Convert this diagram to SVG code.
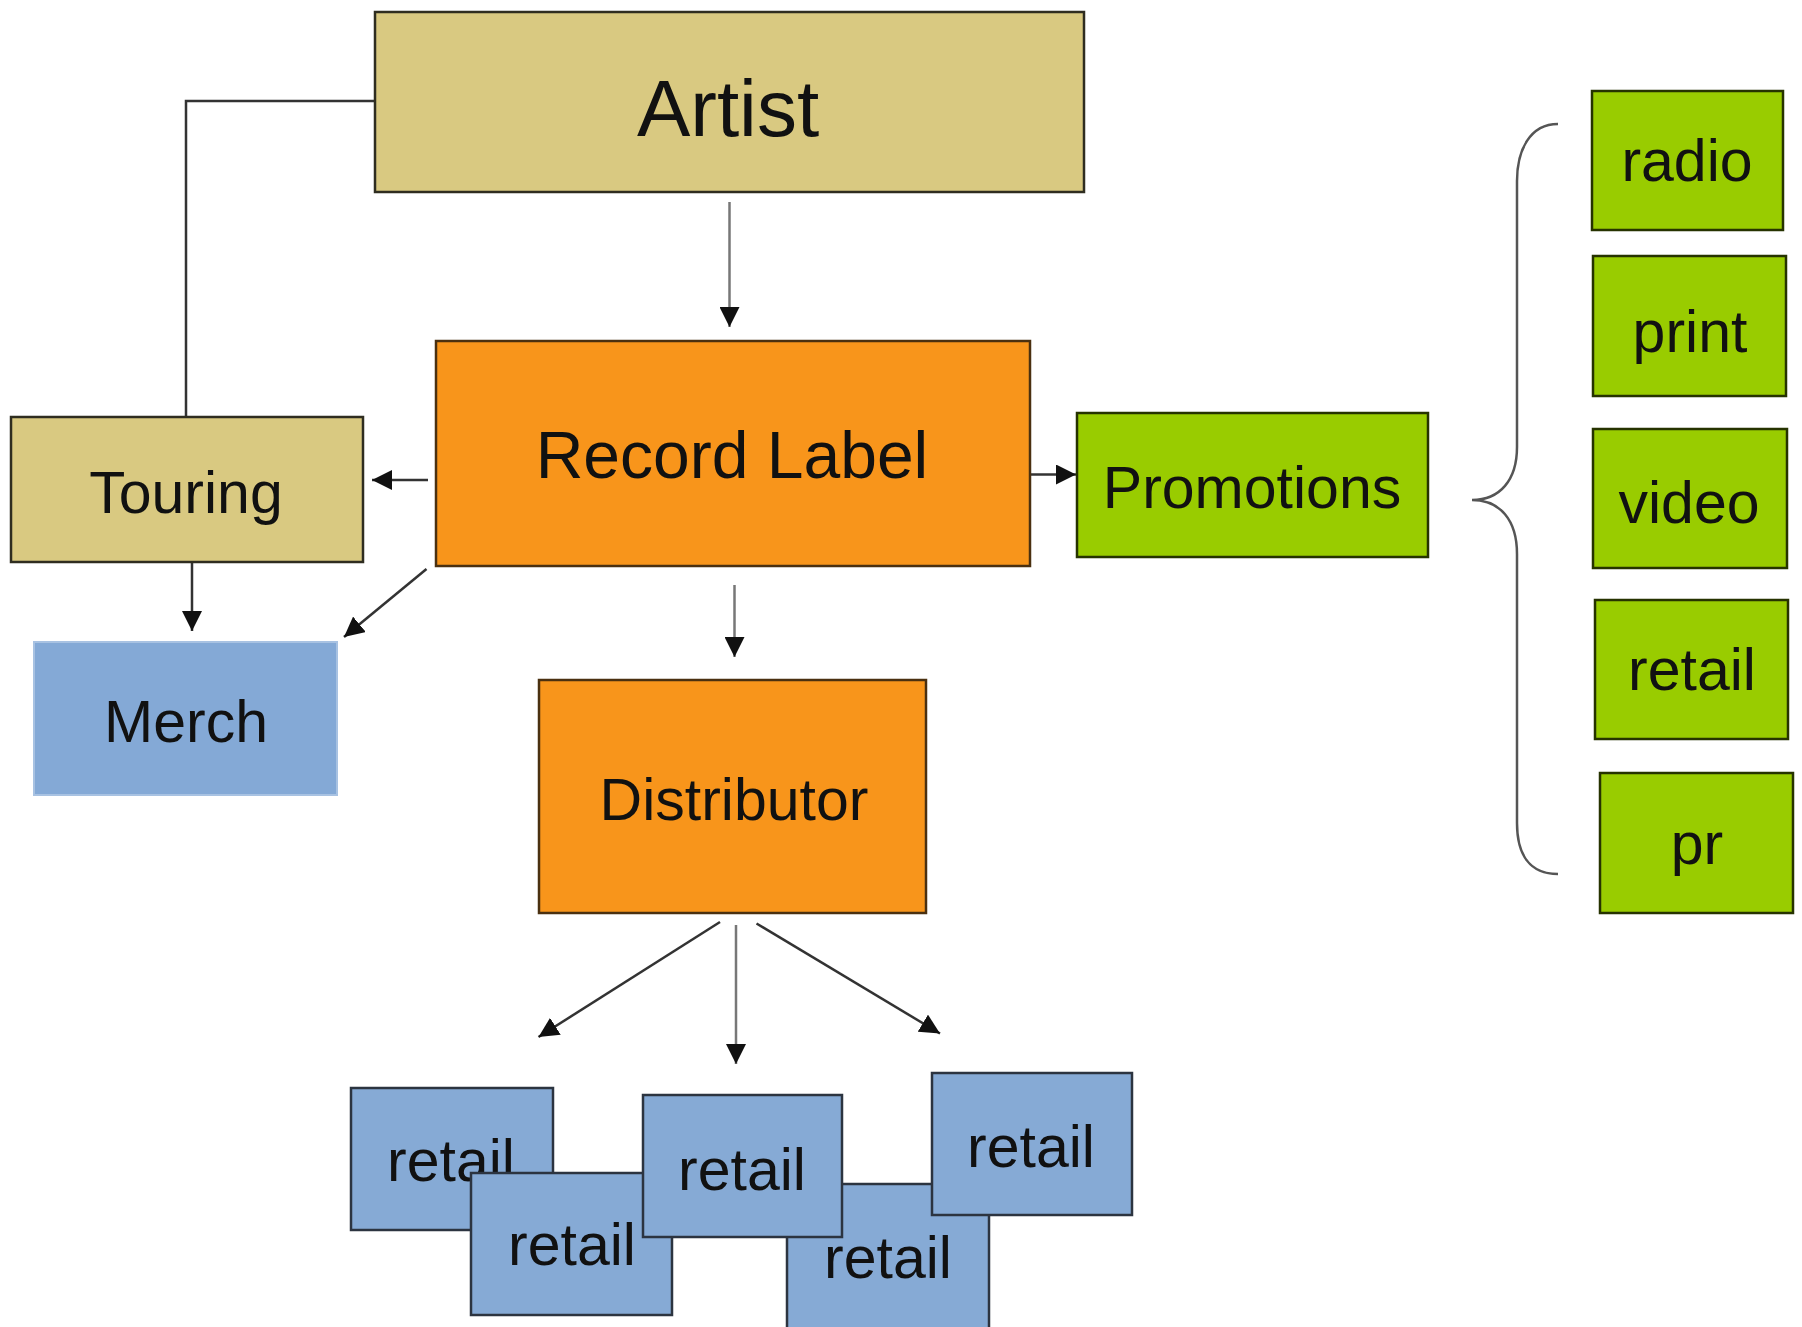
<svg xmlns="http://www.w3.org/2000/svg" width="1802" height="1327" viewBox="0 0 1802 1327">
<defs>
<style>
.tan{fill:#D9C981;stroke:#2f2d20;stroke-width:2.5}
.org{fill:#F8951B;stroke:#4a3010;stroke-width:2.5}
.grn{fill:#99CC00;stroke:#263300;stroke-width:2.5}
.blu{fill:#86AAD5;stroke:#2c3440;stroke-width:2.5}
.mer{fill:#84A9D6;stroke:#A8C2E2;stroke-width:2}
text{font-family:"Liberation Sans",Arial,sans-serif;fill:#111;text-anchor:middle}
.t59{font-size:59px}
.con{fill:none;stroke:#333;stroke-width:2.5}
.gry{fill:none;stroke:#777;stroke-width:2.5}
.brace{fill:none;stroke:#555;stroke-width:2.5}
</style>
<marker id="ah" markerUnits="userSpaceOnUse" markerWidth="22" markerHeight="20" refX="20" refY="10" orient="auto">
<path d="M0,0 L20,10 L0,20 Z" fill="#111"/>
</marker>
</defs>
<rect width="1802" height="1327" fill="#fff"/>
<g id="connectors">
<path class="con" d="M375,101 H186 V417"/>
<line class="gry" x1="729.5" y1="202" x2="729.5" y2="327" marker-end="url(#ah)"/>
<line class="con" x1="428" y1="480" x2="372" y2="480" marker-end="url(#ah)"/>
<line class="con" x1="1031" y1="474.5" x2="1076" y2="474.5" stroke-width="3.5" marker-end="url(#ah)"/>
<line class="con" x1="192" y1="562" x2="192" y2="631" marker-end="url(#ah)"/>
<line class="con" x1="426.5" y1="569" x2="344" y2="637" marker-end="url(#ah)"/>
<line class="gry" x1="734.5" y1="585" x2="734.5" y2="657" marker-end="url(#ah)"/>
<line class="con" x1="720" y1="922" x2="538.5" y2="1037" marker-end="url(#ah)"/>
<line class="gry" x1="736" y1="925" x2="736" y2="1064" marker-end="url(#ah)"/>
<line class="con" x1="756.5" y1="923.5" x2="940" y2="1033.5" marker-end="url(#ah)"/>
<path class="brace" d="M1558,124 C1530,124 1517,150 1517,181 L1517,447 C1517,480 1500,500 1472,500 C1500,500 1517,520 1517,554 L1517,823 C1517,855 1530,874 1558,874"/>
</g>
<g id="artist"><rect class="tan" x="375" y="12" width="709" height="180"/><text x="728" y="136" font-size="80">Artist</text></g>
<g id="record-label"><rect class="org" x="436" y="341" width="594" height="225"/><text x="732" y="478" font-size="66">Record Label</text></g>
<g id="touring"><rect class="tan" x="11" y="417" width="352" height="145"/><text class="t59" x="186" y="513">Touring</text></g>
<g id="promotions"><rect class="grn" x="1077" y="413" width="351" height="144"/><text class="t59" x="1252" y="508">Promotions</text></g>
<g id="merch"><rect class="mer" x="34" y="642" width="303" height="153"/><text class="t59" x="186" y="742">Merch</text></g>
<g id="distributor"><rect class="org" x="539" y="680" width="387" height="233"/><text class="t59" x="734" y="820">Distributor</text></g>
<g id="radio"><rect class="grn" x="1592" y="91" width="191" height="139"/><text class="t59" x="1687" y="181">radio</text></g>
<g id="print"><rect class="grn" x="1593" y="256" width="193" height="140"/><text class="t59" x="1690" y="352">print</text></g>
<g id="video"><rect class="grn" x="1593" y="429" width="194" height="139"/><text class="t59" x="1689" y="523">video</text></g>
<g id="retail-promo"><rect class="grn" x="1595" y="600" width="193" height="139"/><text class="t59" x="1692" y="690">retail</text></g>
<g id="pr"><rect class="grn" x="1600" y="773" width="193" height="140"/><text class="t59" x="1697" y="864">pr</text></g>
<g id="retail-1"><rect class="blu" x="351" y="1088" width="202" height="142"/><text class="t59" x="451" y="1181">retail</text></g>
<g id="retail-2"><rect class="blu" x="471" y="1173" width="201" height="142"/><text class="t59" x="572" y="1265">retail</text></g>
<g id="retail-4"><rect class="blu" x="787" y="1184" width="202" height="145"/><text class="t59" x="888" y="1278">retail</text></g>
<g id="retail-3"><rect class="blu" x="643" y="1095" width="199" height="142"/><text class="t59" x="742" y="1190">retail</text></g>
<g id="retail-5"><rect class="blu" x="932" y="1073" width="200" height="142"/><text class="t59" x="1031" y="1167">retail</text></g>
</svg>
